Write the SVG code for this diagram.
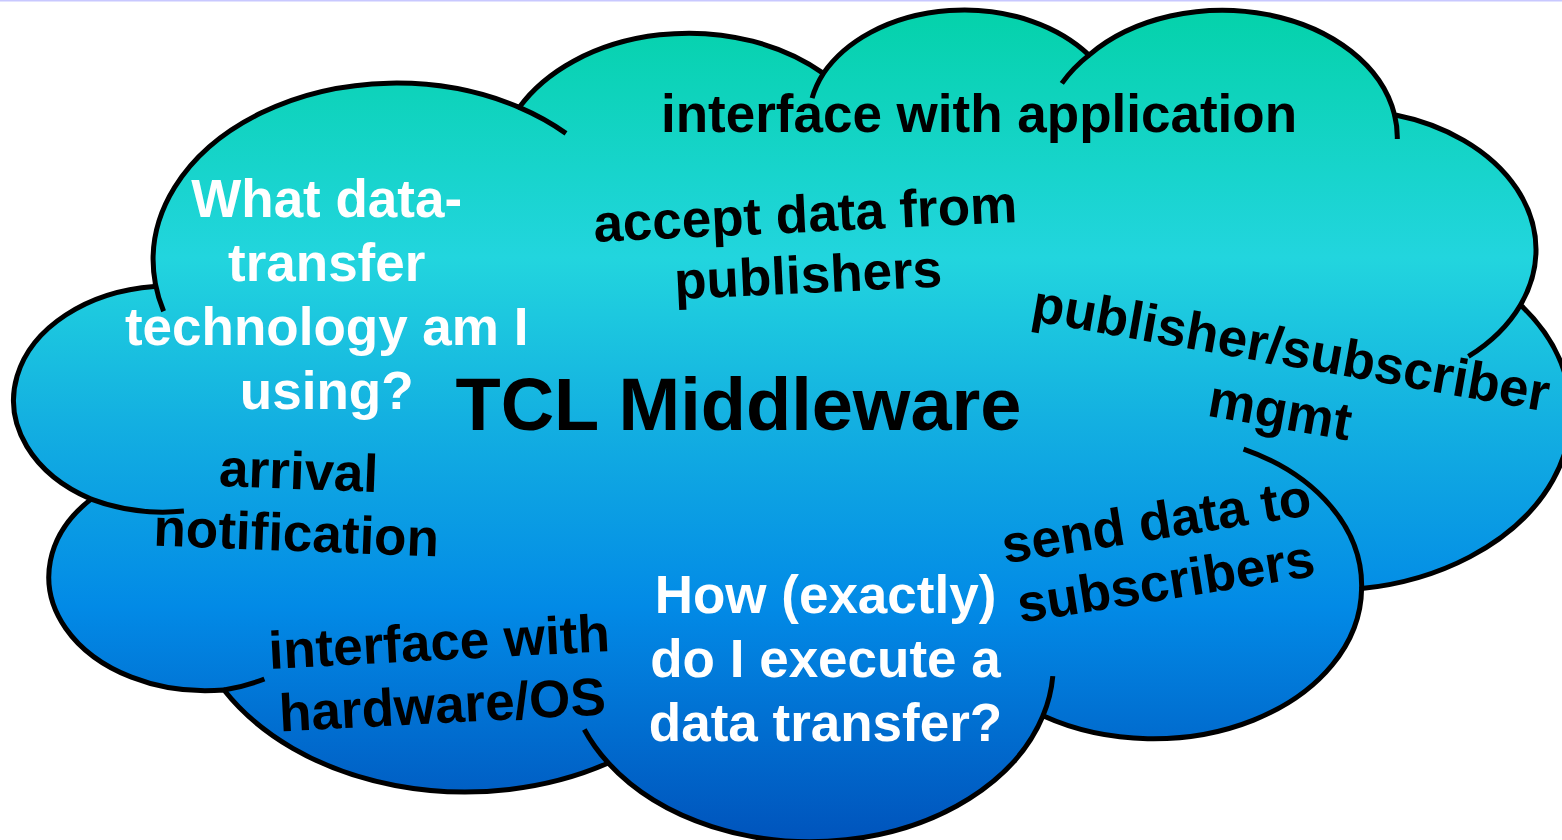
<svg xmlns="http://www.w3.org/2000/svg" width="1562" height="840" viewBox="0 0 1562 840">
<defs>
<linearGradient id="fillGrad" gradientUnits="userSpaceOnUse" x1="0" y1="8" x2="0" y2="840">
<stop offset="0" stop-color="#04d2aa"/>
<stop offset="0.3" stop-color="#22d5de"/>
<stop offset="0.5" stop-color="#13afe1"/>
<stop offset="0.72" stop-color="#028ae6"/>
<stop offset="1" stop-color="#0054bc"/>
</linearGradient>
<style>
.outline{fill:url(#fillGrad);stroke:#000;stroke-width:5;stroke-linejoin:round}
.tail{fill:none;stroke:#000;stroke-width:5;stroke-linecap:butt}
text{font-family:"Liberation Sans",Arial,Helvetica,sans-serif;font-weight:bold;font-size:53px;text-anchor:middle}
.dark{fill:#000}
.light{fill:#fff}
.title{font-size:74px}
</style>
</defs>
<rect width="1562" height="840" fill="#fff"/>
<rect x="0" y="0" width="1562" height="1.5" fill="#c8c8ff"/>
<g id="cloud">
<path class="outline" d="M155.4,283.9 A243.1,176.9 0 0 1 519.2,107.4 A192,139.9 0 0 1 823.4,73.4 A157.1,114.4 0 0 1 1089,55.1 A174.9,126.9 0 0 1 1394.5,114.7 A192,140 0 0 1 1520.5,304.9 A243.9,177.4 0 0 1 1361.6,588.6 A208.3,151.4 0 0 1 1043,715.8 A243.1,177.4 0 0 1 608.3,763 A277.9,202.9 0 0 1 224,690 A157,113.9 0 0 1 91.1,499.1 A156.4,114.4 0 0 1 154.1,286.5 Z"/>
<path class="tail" d="M183.9,511.1 A156.4,114.4 0 0 1 91.1,499.1 M264.4,679 A157,113.9 0 0 1 224,690 M608.3,763 A243.1,177.4 0 0 1 584.3,729.5 M1052.8,676.1 A243.1,177.4 0 0 1 1043,715.8 M1243.6,449.1 A208.3,151.4 0 0 1 1361.6,588.6 M1520.5,304.9 A192,140 0 0 1 1468.4,356.4 M1394.5,114.7 A174.9,126.9 0 0 1 1397.3,139 M1061.8,83.4 A174.9,126.9 0 0 1 1089,55.1 M812.1,98.1 A157.1,114.4 0 0 1 823.4,73.4 M519.2,107.4 A243.1,176.9 0 0 1 566,133.4 M163.6,311.2 A243.1,176.9 0 0 1 155.4,283.9"/>
</g>
<g id="label-interface-application">
<text class="dark" x="979" y="132">interface with application</text>
</g>
<g id="label-accept" transform="translate(806,232) rotate(-2.7)">
<text class="dark" x="0" y="0">accept data from</text>
<text class="dark" x="0" y="61">publishers</text>
</g>
<g id="label-pubsub" transform="translate(1288,366) rotate(10)">
<text class="dark" x="0" y="0">publisher/subscriber</text>
<text class="dark" x="0" y="63">mgmt</text>
</g>
<g id="label-send" transform="translate(1159,539) rotate(-9)">
<text class="dark" x="0" y="0">send data to</text>
<text class="dark" x="0" y="61">subscribers</text>
</g>
<g id="label-title">
<text class="dark title" x="738.5" y="430">TCL Middleware</text>
</g>
<g id="label-what">
<text class="light" x="326.7" y="216.5">What data-</text>
<text class="light" x="326.7" y="280.5">transfer</text>
<text class="light" x="326.7" y="344.5">technology am I</text>
<text class="light" x="326.7" y="408.5">using?</text>
</g>
<g id="label-arrival" transform="translate(298,489) rotate(2.2)">
<text class="dark" x="0" y="0">arrival</text>
<text class="dark" x="0" y="62">notification</text>
</g>
<g id="label-hardware" transform="translate(440,660) rotate(-3)">
<text class="dark" x="0" y="0">interface with</text>
<text class="dark" x="0" y="63">hardware/OS</text>
</g>
<g id="label-how">
<text class="light" x="825.5" y="612.7">How (exactly)</text>
<text class="light" x="825.5" y="676.7">do I execute a</text>
<text class="light" x="825.5" y="740.7">data transfer?</text>
</g>
</svg>
